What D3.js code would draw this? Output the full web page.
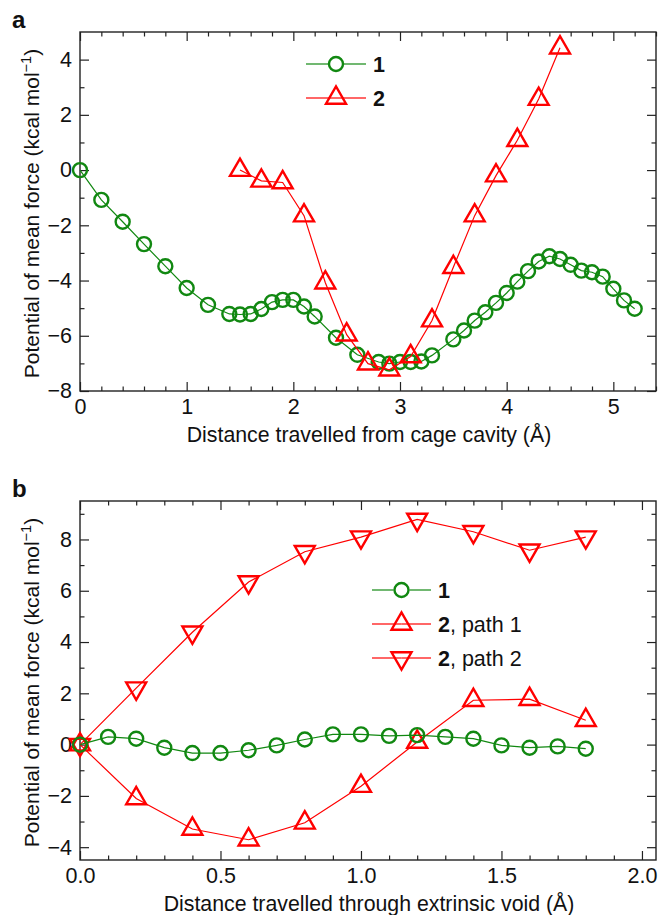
<!DOCTYPE html>
<html>
<head>
  <meta charset="utf-8">
  <title>PMF</title>
  <script src="https://d3js.org/d3.v7.min.js"></script>
  <style>
    body { margin: 0; background: #fff; }
    text { font-family: "Liberation Sans", Arial, sans-serif; fill: #111; }
  </style>
</head>
<body>
<script>
  // panel a, series 1 (circles)
  var aX1 = [0, 0.2, 0.4, 0.6, 0.8, 1.0, 1.2, 1.4, 1.5, 1.6, 1.7, 1.8, 1.9, 2.0, 2.1, 2.2,
             2.4, 2.6, 2.8, 2.9, 3.0, 3.1, 3.2, 3.3, 3.5, 3.6, 3.7, 3.8, 3.9, 4.0, 4.1,
             4.2, 4.3, 4.4, 4.5, 4.6, 4.7, 4.8, 4.9, 5.0, 5.1, 5.2];
  var aY1 = [0, -1.08, -1.87, -2.68, -3.48, -4.27, -4.88, -5.21, -5.23, -5.21, -5.03, -4.78,
             -4.70, -4.70, -4.94, -5.30, -6.07, -6.69, -6.95, -7.01, -6.95, -6.95, -6.93, -6.71,
             -6.13, -5.81, -5.45, -5.15, -4.81, -4.45, -4.04, -3.66, -3.31, -3.12, -3.22,
             -3.43, -3.64, -3.70, -3.86, -4.30, -4.72, -5.02];
  // panel a, series 2 (triangles)
  var aX2 = [1.5, 1.7, 1.9, 2.1, 2.3, 2.5, 2.7, 2.9, 3.1, 3.3, 3.5, 3.7, 3.9, 4.1, 4.3, 4.5];
  var aY2 = [0, -0.39, -0.45, -1.65, -4.08, -5.96, -7.01, -7.23, -6.75, -5.45, -3.52,
             -1.65, -0.20, 1.08, 2.57, 4.43];

  // panel b
  var bX1 = [0, 0.1, 0.2, 0.3, 0.4, 0.5, 0.6, 0.7, 0.8, 0.9, 1.0, 1.1, 1.2, 1.3, 1.4, 1.5, 1.6, 1.7, 1.8];
  var bY1 = [0, 0.30, 0.23, -0.12, -0.33, -0.33, -0.22, -0.03, 0.20, 0.40, 0.40, 0.34, 0.37,
             0.30, 0.23, -0.03, -0.12, -0.07, -0.16];
  var bX2 = [0, 0.2, 0.4, 0.6, 0.8, 1.0, 1.2, 1.4, 1.6, 1.8];
  var bPath1 = [0, -2.1, -3.29, -3.71, -3.05, -1.62, 0.10, 1.73, 1.77, 0.95];
  var bPath2 = [0, 2.2, 4.38, 6.34, 7.52, 8.09, 8.78, 8.30, 7.58, 8.09];

  var aXTicks = [0, 1, 2, 3, 4, 5];
  var aYTicks = [-8, -6, -4, -2, 0, 2, 4];
  var bXTicks = [0, 0.5, 1.0, 1.5, 2.0];
  var bYTicks = [-4, -2, 0, 2, 4, 6, 8];

  var GREEN = "#118811", RED = "#ff0000";

  var svg = d3.select("body").append("svg")
      .attr("width", 659)
      .attr("height", 915);

  function zip(xs, ys) {
    return xs.map(function(x, i) { return [x, ys[i]]; });
  }

  function marker(g, type, x, y) {
    if (type == "circle") {
      g.append("circle").attr("cx", x).attr("cy", y).attr("r", 7)
        .attr("fill", "none").attr("stroke", GREEN).attr("stroke-width", 2.4);
    } else {
      var s = 20, h = s * Math.sqrt(3) / 2;
      var d = type == "up" ?
        [[x - s/2, y + h/3], [x + s/2, y + h/3], [x, y - 2*h/3]] :
        [[x - s/2, y - h/3], [x + s/2, y - h/3], [x, y + 2*h/3]];
      g.append("path").attr("d", "M" + d.join("L") + "Z")
        .attr("fill", "none").attr("stroke", RED).attr("stroke-width", 2.4)
        .attr("stroke-linejoin", "miter");
    }
  }

  function panel(p) {
    var x = d3.scaleLinear().domain(p.xDomain).range([80, 656]);
    var y = d3.scaleLinear().domain(p.yDomain).range([p.bottom, p.top]);
    var g = svg.append("g");

    function addAxis(axis, transform) {
      var a = g.append("g").attr("transform", transform).call(axis);
      a.select(".domain").remove();
      a.selectAll("line").attr("stroke", "#222").attr("stroke-width", 1.2);
      a.selectAll("text").attr("font-size", 21.5).attr("fill", "#111")
        .attr("font-family", "Liberation Sans, Arial, sans-serif");
      return a;
    }
    // major ticks (inward)
    addAxis(d3.axisBottom(x).tickValues(p.xTicks).tickSize(-9).tickPadding(8).tickFormat(p.xFmt),
            "translate(0," + p.bottom + ")");
    addAxis(d3.axisTop(x).tickValues(p.xTicks).tickSize(-9).tickFormat(""),
            "translate(0," + p.top + ")");
    addAxis(d3.axisLeft(y).tickValues(p.yTicks).tickSize(-9).tickPadding(8).tickFormat(d3.format("d")),
            "translate(80,0)");
    addAxis(d3.axisRight(y).tickValues(p.yTicks).tickSize(-9).tickFormat(""),
            "translate(656,0)");
    // minor ticks
    addAxis(d3.axisBottom(x).tickValues(p.xMinor).tickSize(-4.5).tickFormat(""),
            "translate(0," + p.bottom + ")");
    addAxis(d3.axisTop(x).tickValues(p.xMinor).tickSize(-4.5).tickFormat(""),
            "translate(0," + p.top + ")");
    addAxis(d3.axisLeft(y).tickValues(p.yMinor).tickSize(-4.5).tickFormat(""),
            "translate(80,0)");
    addAxis(d3.axisRight(y).tickValues(p.yMinor).tickSize(-4.5).tickFormat(""),
            "translate(656,0)");

    g.append("rect")
      .attr("x", 80).attr("y", p.top)
      .attr("width", 576).attr("height", p.bottom - p.top)
      .attr("fill", "none").attr("stroke", "#222").attr("stroke-width", 1.4);

    var line = d3.line()
      .x(function(d) { return x(d[0]); })
      .y(function(d) { return y(d[1]); });

    p.series.forEach(function(s) {
      g.append("path").datum(s.data)
        .attr("d", line)
        .attr("fill", "none")
        .attr("stroke", s.color)
        .attr("stroke-width", 1.2);
      s.data.forEach(function(d) { marker(g, s.type, x(d[0]), y(d[1])); });
    });

    // legend (own order)
    p.legend.forEach(function(i, k) {
      var s = p.series[i];
      var ly = p.legY + k * p.legStep;
      var cx = (p.legX0 + p.legX1) / 2;
      var gap = s.type == "circle" ? 8 : 0;
      g.append("line").attr("x1", p.legX0).attr("x2", cx - gap).attr("y1", ly).attr("y2", ly)
        .attr("stroke", s.color).attr("stroke-width", 1.2);
      g.append("line").attr("x1", cx + gap).attr("x2", p.legX1).attr("y1", ly).attr("y2", ly)
        .attr("stroke", s.color).attr("stroke-width", 1.2);
      marker(g, s.type, cx, ly);
      var t = g.append("text").attr("x", p.legX1 + 7).attr("y", ly + 7.5).attr("font-size", 21.5);
      t.append("tspan").attr("font-weight", "bold").text(s.name);
      if (s.extra) t.append("tspan").text(s.extra);
    });

    // axis titles
    g.append("text")
      .attr("x", 369).attr("y", p.bottom + 51)
      .attr("text-anchor", "middle").attr("font-size", 21.3)
      .text(p.xTitle);
    var yt = g.append("text")
      .attr("transform", "translate(39," + ((p.top + p.bottom) / 2 + 2) + ") rotate(-90)")
      .attr("text-anchor", "middle").attr("font-size", 21);
    yt.append("tspan").text("Potential of mean force (kcal mol");
    yt.append("tspan").attr("font-size", 14.5).attr("dy", -8).text("\u22121");
    yt.append("tspan").attr("dy", 8).text(")");

    g.append("text").attr("x", 12).attr("y", p.top - 4)
      .attr("font-size", 24).attr("font-weight", "bold").text(p.label);
  }

  panel({
    label: "a",
    top: 32, bottom: 391,
    xDomain: [0, 5.4], yDomain: [-8, 5],
    xTicks: aXTicks, yTicks: aYTicks,
    xMinor: d3.range(0, 5.41, 0.2).filter(function(v) { return Math.abs(v - Math.round(v)) > 0.01; }),
    yMinor: d3.range(-7, 5, 2),
    xFmt: d3.format("d"),
    xTitle: "Distance travelled from cage cavity (\u00c5)",
    legX0: 306, legX1: 366, legY: 64, legStep: 34,
    series: [
      { name: "1", type: "circle", color: GREEN, data: zip(aX1, aY1) },
      { name: "2", type: "up", color: RED, data: zip(aX2, aY2) }
    ],
    legend: [0, 1]
  });

  panel({
    label: "b",
    top: 501, bottom: 860,
    xDomain: [0, 2.05], yDomain: [-4.5, 9.5],
    xTicks: bXTicks, yTicks: bYTicks,
    xMinor: d3.range(0.1, 2.05, 0.1).filter(function(v) { return Math.abs(v * 2 - Math.round(v * 2)) > 0.01; }),
    yMinor: d3.range(-3, 10, 2),
    xFmt: d3.format(".1f"),
    xTitle: "Distance travelled through extrinsic void (\u00c5)",
    legX0: 372, legX1: 431, legY: 590, legStep: 34,
    series: [
      { name: "2", extra: ", path 1", type: "up", color: RED, data: zip(bX2, bPath1) },
      { name: "2", extra: ", path 2", type: "down", color: RED, data: zip(bX2, bPath2) },
      { name: "1", type: "circle", color: GREEN, data: zip(bX1, bY1) }
    ],
    legend: [2, 0, 1]
  });
</script>
</body>
</html>
